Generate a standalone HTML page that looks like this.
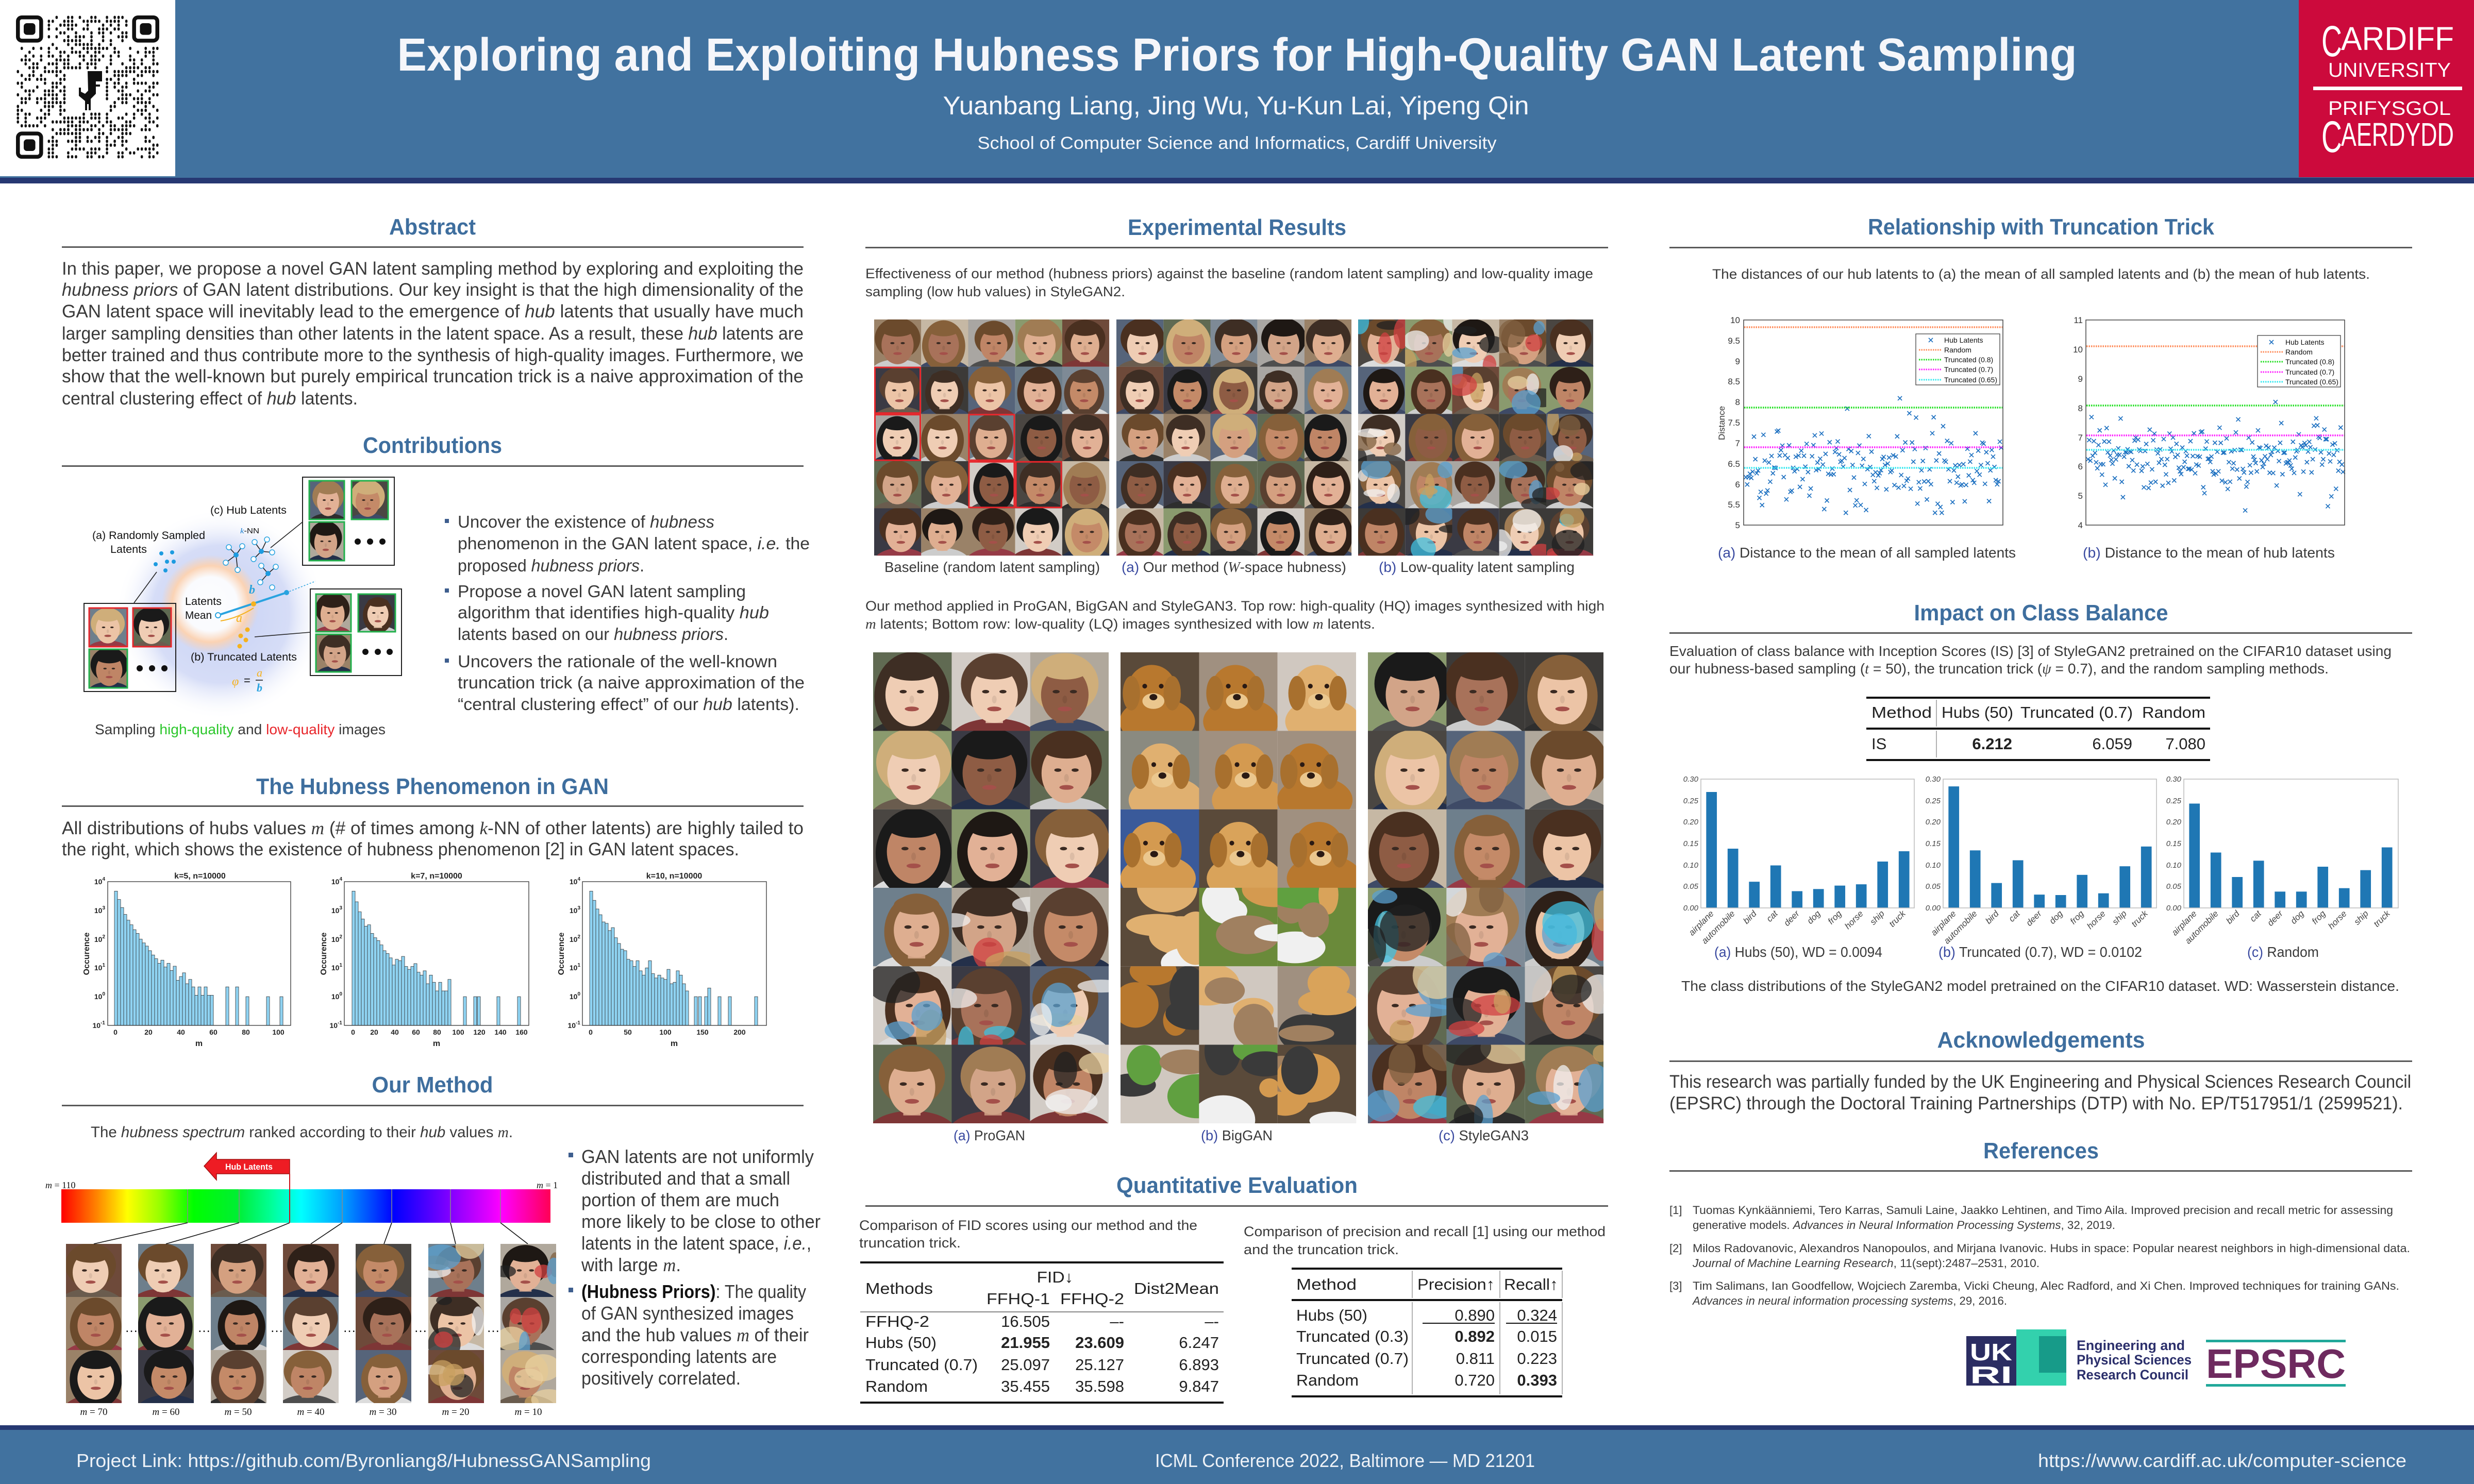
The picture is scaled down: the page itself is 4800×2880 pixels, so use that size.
<!DOCTYPE html>
<html><head><meta charset="utf-8">
<style>
html,body{margin:0;padding:0;background:#fff;}
svg{display:block;}
.b{font-family:"Liberation Sans",sans-serif;font-size:35px;fill:#3a3a3a;}
.s{font-family:"Liberation Sans",sans-serif;font-size:27px;fill:#3a3a3a;}
.h{font-family:"Liberation Sans",sans-serif;font-size:44px;font-weight:bold;fill:#3e6e9e;text-anchor:middle;}
.i{font-style:italic;}
.m{font-family:"Liberation Serif",serif;font-style:italic;}
.t{font-family:"Liberation Sans",sans-serif;font-size:31px;fill:#222;}
.ax{font-family:"Liberation Sans",sans-serif;font-size:14px;font-weight:bold;fill:#222;}
.sc{font-family:"Liberation Sans",sans-serif;font-size:17px;fill:#333;}
.bc{font-family:"Liberation Sans",sans-serif;font-size:15px;font-style:italic;fill:#444;}
.lg{font-family:"Liberation Sans",sans-serif;font-size:14px;fill:#111;}
.dg{font-family:"Liberation Sans",sans-serif;font-size:21px;fill:#111;}
.f{font-family:"Liberation Sans",sans-serif;font-size:36px;fill:#eef2f7;}
.cap{fill:#3a4aa0;}
</style></head>
<body>
<svg id="root" xmlns="http://www.w3.org/2000/svg" width="4800" height="2880" viewBox="0 0 4800 2880">
<defs>
<linearGradient id="spec" x1="0" y1="0" x2="1" y2="0">
<stop offset="0" stop-color="#ff0000"/><stop offset="0.07" stop-color="#ff8000"/><stop offset="0.135" stop-color="#ffff00"/>
<stop offset="0.2" stop-color="#99ff00"/><stop offset="0.27" stop-color="#00ff00"/><stop offset="0.36" stop-color="#00ee33"/>
<stop offset="0.43" stop-color="#00ff99"/><stop offset="0.49" stop-color="#00ffff"/><stop offset="0.58" stop-color="#0099ff"/>
<stop offset="0.68" stop-color="#0000ff"/><stop offset="0.8" stop-color="#8800ff"/><stop offset="0.9" stop-color="#ff00ff"/>
<stop offset="1" stop-color="#ff0055"/></linearGradient>
<radialGradient id="blueGlow"><stop offset="0" stop-color="#c7d1f4"/><stop offset="0.65" stop-color="#d6ddf7"/><stop offset="1" stop-color="#ffffff" stop-opacity="0"/></radialGradient>
<radialGradient id="orRing"><stop offset="0" stop-color="#ffffff" stop-opacity="0.95"/><stop offset="0.55" stop-color="#ffffff" stop-opacity="0.9"/><stop offset="0.78" stop-color="#fbd3b4"/><stop offset="1" stop-color="#fbd3b4" stop-opacity="0"/></radialGradient>
</defs>

<!-- HEADER -->
<rect x="0" y="0" width="4800" height="346" fill="#41729f"/>
<rect x="0" y="345" width="4800" height="11" fill="#263872"/>
<rect x="0" y="0" width="340" height="342" fill="#ffffff"/>
<rect x="4460" y="0" width="340" height="344" fill="#cc0a3c"/>
<rect x="4488" y="168" width="289" height="7" fill="#ffffff"/>

<!-- FOOTER -->
<rect x="0" y="2766" width="4800" height="10" fill="#263872"/>
<rect x="0" y="2775" width="4800" height="105" fill="#41729f"/>

<!-- section rules -->
<g fill="#5a5a5a">
<rect x="120" y="478" width="1439" height="3"/>
<rect x="120" y="903" width="1439" height="3"/>
<rect x="120" y="1563" width="1439" height="3"/>
<rect x="120" y="2144" width="1439" height="3"/>
<rect x="1679" y="479" width="1441" height="3"/>
<rect x="1679" y="2339" width="1441" height="3"/>
<rect x="3239" y="479" width="1441" height="3"/>
<rect x="3239" y="1227" width="1441" height="3"/>
<rect x="3239" y="2058" width="1441" height="3"/>
<rect x="3239" y="2271" width="1441" height="3"/>
</g>

<!-- contributions diagram backgrounds -->
<circle cx="428" cy="1192" r="205" fill="url(#blueGlow)"/>
<circle cx="408" cy="1172" r="95" fill="url(#orRing)"/>

<!-- spectrum bar -->
<rect x="119" y="2308" width="949" height="65" fill="url(#spec)"/>

<!-- photo/graphics group (generated) -->
<g id="gfx"></g>

<!-- diagram boxes -->
<g fill="none" stroke="#222" stroke-width="2">
<rect x="587" y="926" width="178" height="171"/>
<rect x="602" y="1143" width="177" height="168"/>
<rect x="163" y="1171" width="178" height="171"/>
</g>
<g fill="none" stroke-width="3">
<rect x="600" y="933" width="68" height="75" stroke="#22b14c"/>
<rect x="682" y="933" width="71" height="75" stroke="#22b14c"/>
<rect x="600" y="1013" width="68" height="75" stroke="#22b14c"/>
<rect x="613" y="1153" width="68" height="73" stroke="#22b14c"/>
<rect x="695" y="1153" width="72" height="73" stroke="#22b14c"/>
<rect x="613" y="1231" width="68" height="73" stroke="#22b14c"/>
<rect x="173" y="1180" width="74" height="75" stroke="#e8262b"/>
<rect x="258" y="1180" width="74" height="75" stroke="#e8262b"/>
<rect x="173" y="1260" width="74" height="75" stroke="#22b14c"/>
</g>
<g fill="#111">
<circle cx="694" cy="1051" r="6"/><circle cx="718" cy="1051" r="6"/><circle cx="742" cy="1051" r="6"/>
<circle cx="709" cy="1265" r="6"/><circle cx="733" cy="1265" r="6"/><circle cx="756" cy="1265" r="6"/>
<circle cx="271" cy="1297" r="6"/><circle cx="295" cy="1297" r="6"/><circle cx="319" cy="1297" r="6"/>
</g>
<g stroke="#222" stroke-width="1.6">
<line x1="260" y1="1170" x2="304" y2="1110"/>
<line x1="525" y1="1063" x2="587" y2="1013"/>
<line x1="494" y1="1236" x2="602" y2="1227"/>
<line x1="444" y1="1062" x2="458" y2="1077"/><line x1="470" y1="1060" x2="458" y2="1077"/><line x1="438" y1="1092" x2="458" y2="1077"/><line x1="461" y1="1106" x2="458" y2="1077"/>
<line x1="494" y1="1052" x2="507" y2="1070"/><line x1="518" y1="1047" x2="507" y2="1070"/><line x1="528" y1="1072" x2="507" y2="1070"/><line x1="492" y1="1085" x2="507" y2="1070"/>
<line x1="507" y1="1098" x2="520" y2="1113"/><line x1="535" y1="1100" x2="520" y2="1113"/><line x1="505" y1="1130" x2="520" y2="1113"/>
</g>
<g fill="#fff" stroke="#29a3e0" stroke-width="1.5">
<circle cx="444" cy="1062" r="5"/><circle cx="470" cy="1060" r="5"/><circle cx="438" cy="1092" r="5"/><circle cx="461" cy="1106" r="5"/>
<circle cx="494" cy="1052" r="5"/><circle cx="518" cy="1047" r="5"/><circle cx="528" cy="1072" r="5"/><circle cx="492" cy="1085" r="5"/>
<circle cx="507" cy="1098" r="5"/><circle cx="535" cy="1100" r="5"/><circle cx="505" cy="1130" r="5"/><circle cx="528" cy="1140" r="5"/>
</g>
<g fill="#1d9be0">
<circle cx="458" cy="1077" r="5"/><circle cx="507" cy="1070" r="5"/><circle cx="520" cy="1113" r="5"/>
<circle cx="313" cy="1074" r="4"/><circle cx="334" cy="1072" r="4"/><circle cx="324" cy="1090" r="4"/><circle cx="337" cy="1090" r="4"/><circle cx="302" cy="1095" r="4"/><circle cx="321" cy="1107" r="4"/>
</g>
<line x1="423" y1="1194" x2="556" y2="1150" stroke="#29a3e0" stroke-width="4"/>
<line x1="556" y1="1150" x2="612" y2="1128" stroke="#29a3e0" stroke-width="1.5" stroke-dasharray="3 3"/>
<circle cx="423" cy="1194" r="5" fill="#fff" stroke="#29a3e0" stroke-width="2"/>
<circle cx="556" cy="1150" r="5" fill="#29a3e0"/>
<circle cx="492" cy="1172" r="5" fill="#f5b21f"/>
<path d="M428 1205 Q460 1200 492 1180" fill="none" stroke="#f5b21f" stroke-width="2"/>
<g fill="#f5b21f"><circle cx="480" cy="1222" r="4.5"/><circle cx="467" cy="1234" r="4.5"/><circle cx="477" cy="1242" r="4.5"/><circle cx="465" cy="1254" r="4.5"/></g>
<line x1="496" y1="1320" x2="510" y2="1320" stroke="#111" stroke-width="1.5"/>

<!-- spectrum separators, connectors, arrow -->
<g stroke="#8a8a8a" stroke-width="1.5">
<line x1="364" y1="2308" x2="364" y2="2373"/><line x1="464" y1="2308" x2="464" y2="2373"/><line x1="562" y1="2308" x2="562" y2="2373"/>
<line x1="664" y1="2308" x2="664" y2="2373"/><line x1="760" y1="2308" x2="760" y2="2373"/><line x1="874" y1="2308" x2="874" y2="2373"/><line x1="971" y1="2308" x2="971" y2="2373"/>
</g>
<g stroke="#111" stroke-width="1.6">
<line x1="364" y1="2373" x2="182" y2="2414"/><line x1="464" y1="2373" x2="322" y2="2414"/><line x1="562" y1="2373" x2="462" y2="2414"/>
<line x1="664" y1="2373" x2="603" y2="2414"/><line x1="760" y1="2373" x2="745" y2="2414"/><line x1="874" y1="2373" x2="884" y2="2414"/><line x1="971" y1="2373" x2="1024" y2="2414"/>
</g>
<polygon points="396,2263 420,2237 420,2250 562,2250 562,2278 420,2278 420,2290" fill="#ee1c24" stroke="#a01010" stroke-width="1.5"/>
<line x1="562" y1="2278" x2="562" y2="2373" stroke="#cc1018" stroke-width="2"/>

<!-- hist axes boxes -->
<g fill="none" stroke="#333" stroke-width="1.3">
<rect x="209" y="1711" width="355" height="279"/>
<rect x="668" y="1711" width="358" height="279"/>
<rect x="1130" y="1711" width="357" height="279"/>
</g>

<!-- scatter plot boxes and ref lines -->
<g fill="none" stroke="#444" stroke-width="1.5">
<rect x="3383" y="621" width="503" height="398"/>
<rect x="4047" y="621" width="502" height="398"/>
</g>
<g stroke-width="3.5" stroke-dasharray="2.5 2">
<line x1="3384" y1="635" x2="3885" y2="635" stroke="#ff8c5a"/>
<line x1="3384" y1="791" x2="3885" y2="791" stroke="#22e022"/>
<line x1="3384" y1="868" x2="3885" y2="868" stroke="#ff22ff"/>
<line x1="3384" y1="908" x2="3885" y2="908" stroke="#33e8f0"/>
<line x1="4048" y1="672" x2="4548" y2="672" stroke="#ff8c5a"/>
<line x1="4048" y1="787" x2="4548" y2="787" stroke="#22e022"/>
<line x1="4048" y1="845" x2="4548" y2="845" stroke="#ff22ff"/>
<line x1="4048" y1="873" x2="4548" y2="873" stroke="#33e8f0"/>
</g>

<!-- bar chart boxes -->
<g fill="none" stroke="#bbbbbb" stroke-width="1.5">
<rect x="3300" y="1512" width="414" height="250"/>
<rect x="3770" y="1512" width="414" height="250"/>
<rect x="4237" y="1512" width="416" height="250"/>
</g>

<!-- tables -->
<g fill="#111">
<rect x="1669" y="2448" width="705" height="4"/><rect x="1669" y="2720" width="705" height="4"/>
<rect x="2506" y="2460" width="525" height="4"/><rect x="2506" y="2521" width="525" height="4"/><rect x="2506" y="2708" width="525" height="4"/>
<rect x="3621" y="1352" width="667" height="4"/><rect x="3621" y="1412" width="667" height="4"/><rect x="3621" y="1473" width="667" height="4"/>
<rect x="2760" y="2567" width="140" height="2"/><rect x="2922" y="2567" width="99" height="2"/>
</g>
<rect x="1669" y="2545" width="705" height="2" fill="#888"/>
<g stroke="#999" stroke-width="1.5">
<line x1="2740" y1="2466" x2="2740" y2="2519"/><line x1="2910" y1="2466" x2="2910" y2="2519"/><line x1="3031" y1="2466" x2="3031" y2="2519"/>
<line x1="2740" y1="2527" x2="2740" y2="2706"/><line x1="2910" y1="2527" x2="2910" y2="2706"/><line x1="3031" y1="2527" x2="3031" y2="2706"/>
<line x1="3757" y1="1358" x2="3757" y2="1410"/><line x1="3757" y1="1418" x2="3757" y2="1470"/>
</g>

<!-- bullets -->
<g fill="#3e5e8e">
<rect x="863" y="1007" width="8" height="8"/><rect x="863" y="1142" width="8" height="8"/><rect x="863" y="1278" width="8" height="8"/>
<rect x="1103" y="2237" width="9" height="9"/><rect x="1103" y="2499" width="9" height="9"/>
</g>

<!-- logos -->
<rect x="3815" y="2593" width="97" height="96" fill="#2b2d62"/>
<rect x="3912" y="2580" width="97" height="109" fill="#33d1ad"/>
<rect x="3956" y="2593" width="53" height="71" fill="#179b89"/>
<rect x="4280" y="2600" width="271" height="5" fill="#21a89a"/>
<rect x="4280" y="2686" width="271" height="5" fill="#21a89a"/>

<!-- ============ TEXT ============ -->
<text x="2400" y="137" text-anchor="middle" font-family="Liberation Sans, sans-serif" font-size="90" font-weight="bold" fill="#f5f6fa" textLength="3259" lengthAdjust="spacingAndGlyphs">Exploring and Exploiting Hubness Priors for High-Quality GAN Latent Sampling</text>
<text x="2398" y="222" text-anchor="middle" font-family="Liberation Sans, sans-serif" font-size="50" fill="#f5f6fa" textLength="1137" lengthAdjust="spacingAndGlyphs">Yuanbang Liang, Jing Wu, Yu-Kun Lai, Yipeng Qin</text>
<text x="2400" y="289" text-anchor="middle" font-family="Liberation Sans, sans-serif" font-size="34" fill="#f5f6fa" textLength="1007" lengthAdjust="spacingAndGlyphs">School of Computer Science and Informatics, Cardiff University</text>

<g font-family="Liberation Sans Narrow, Liberation Sans, sans-serif" fill="#ffffff">
<text x="4504" y="109" font-size="84" textLength="40" lengthAdjust="spacingAndGlyphs">C</text>
<text x="4542" y="97" font-size="64" textLength="219" lengthAdjust="spacingAndGlyphs">ARDIFF</text>
<text x="4517" y="149" font-size="39" textLength="238" lengthAdjust="spacingAndGlyphs">UNIVERSITY</text>
<text x="4517" y="223" font-size="38" textLength="238" lengthAdjust="spacingAndGlyphs">PRIFYSGOL</text>
<text x="4504" y="295" font-size="86" textLength="40" lengthAdjust="spacingAndGlyphs">C</text>
<text x="4542" y="283" font-size="64" textLength="219" lengthAdjust="spacingAndGlyphs">AERDYDD</text>
</g>

<!-- headings -->
<text class="h" x="839" y="455" textLength="168" lengthAdjust="spacingAndGlyphs">Abstract</text>
<text class="h" x="839" y="879" textLength="270" lengthAdjust="spacingAndGlyphs">Contributions</text>
<text class="h" x="839" y="1541" textLength="684" lengthAdjust="spacingAndGlyphs">The Hubness Phenomenon in GAN</text>
<text class="h" x="839" y="2120" textLength="235" lengthAdjust="spacingAndGlyphs">Our Method</text>
<text class="h" x="2400" y="456" textLength="424" lengthAdjust="spacingAndGlyphs">Experimental Results</text>
<text class="h" x="2400" y="2315" textLength="468" lengthAdjust="spacingAndGlyphs">Quantitative Evaluation</text>
<text class="h" x="3960" y="455" textLength="672" lengthAdjust="spacingAndGlyphs">Relationship with Truncation Trick</text>
<text class="h" x="3960" y="1204" textLength="493" lengthAdjust="spacingAndGlyphs">Impact on Class Balance</text>
<text class="h" x="3960" y="2033" textLength="403" lengthAdjust="spacingAndGlyphs">Acknowledgements</text>
<text class="h" x="3960" y="2248" textLength="224" lengthAdjust="spacingAndGlyphs">References</text>

<!-- abstract -->
<g class="b">
<text x="120" y="533" textLength="1439" lengthAdjust="spacingAndGlyphs">In this paper, we propose a novel GAN latent sampling method by exploring and exploiting the</text>
<text x="120" y="574" textLength="1439" lengthAdjust="spacingAndGlyphs"><tspan class="i">hubness priors</tspan> of GAN latent distributions.  Our key insight is that the high dimensionality of the</text>
<text x="120" y="616" textLength="1439" lengthAdjust="spacingAndGlyphs">GAN latent space will inevitably lead to the emergence of <tspan class="i">hub</tspan> latents that usually have much</text>
<text x="120" y="659" textLength="1439" lengthAdjust="spacingAndGlyphs">larger sampling densities than other latents in the latent space. As a result, these <tspan class="i">hub</tspan> latents are</text>
<text x="120" y="701" textLength="1439" lengthAdjust="spacingAndGlyphs">better trained and thus contribute more to the synthesis of high-quality images. Furthermore, we</text>
<text x="120" y="742" textLength="1439" lengthAdjust="spacingAndGlyphs">show that the well-known but purely empirical truncation trick is a naive approximation of the</text>
<text x="120" y="785" textLength="574" lengthAdjust="spacingAndGlyphs">central clustering effect of <tspan class="i">hub</tspan> latents.</text>
</g>

<!-- contributions bullets -->
<g class="b" style="font-size:33px">
<text x="888" y="1024" textLength="498" lengthAdjust="spacingAndGlyphs">Uncover the existence of <tspan class="i">hubness</tspan></text>
<text x="888" y="1066" textLength="683" lengthAdjust="spacingAndGlyphs">phenomenon in the GAN latent space, <tspan class="i">i.e.</tspan> the</text>
<text x="888" y="1109" textLength="362" lengthAdjust="spacingAndGlyphs">proposed <tspan class="i">hubness priors</tspan>.</text>
<text x="888" y="1159" textLength="559" lengthAdjust="spacingAndGlyphs">Propose a novel GAN latent sampling</text>
<text x="888" y="1200" textLength="604" lengthAdjust="spacingAndGlyphs">algorithm that identifies high-quality <tspan class="i">hub</tspan></text>
<text x="888" y="1242" textLength="525" lengthAdjust="spacingAndGlyphs">latents based on our <tspan class="i">hubness priors</tspan>.</text>
<text x="888" y="1295" textLength="620" lengthAdjust="spacingAndGlyphs">Uncovers the rationale of the well-known</text>
<text x="888" y="1336" textLength="673" lengthAdjust="spacingAndGlyphs">truncation trick (a naive approximation of the</text>
<text x="888" y="1378" textLength="663" lengthAdjust="spacingAndGlyphs">“central clustering effect” of our <tspan class="i">hub</tspan> latents).</text>
</g>

<!-- diagram labels -->
<g class="dg">
<text x="408" y="997" textLength="148" lengthAdjust="spacingAndGlyphs">(c) Hub Latents</text>
<text x="179" y="1046" textLength="219" lengthAdjust="spacingAndGlyphs">(a)  Randomly Sampled</text>
<text x="214" y="1073" textLength="71" lengthAdjust="spacingAndGlyphs">Latents</text>
<text x="359" y="1174" textLength="71" lengthAdjust="spacingAndGlyphs">Latents</text>
<text x="359" y="1201" textLength="52" lengthAdjust="spacingAndGlyphs">Mean</text>
<text x="370" y="1282" textLength="206" lengthAdjust="spacingAndGlyphs">(b) Truncated Latents</text>
<text x="466" y="1035" style="font-size:15px" textLength="37" lengthAdjust="spacingAndGlyphs"><tspan class="m" fill="#1d7fd0">k</tspan>-NN</text>
<text x="483" y="1152" class="m" style="font-size:24px;font-weight:bold" fill="#29a3e0">b</text>
<text x="458" y="1207" class="m" style="font-size:24px" fill="#f5b21f">a</text>
<text x="450" y="1330" class="m" style="font-size:24px" fill="#f5b21f">φ</text>
<text x="473" y="1328" style="font-size:22px">=</text>
<text x="498" y="1313" class="m" style="font-size:22px" fill="#f5b21f">a</text>
<text x="498" y="1342" class="m" style="font-size:22px;font-weight:bold" fill="#29a3e0">b</text>
</g>
<text x="184" y="1425" class="b" style="font-size:28px" textLength="564" lengthAdjust="spacingAndGlyphs">Sampling <tspan fill="#2cc72c">high-quality</tspan> and <tspan fill="#e8262b">low-quality</tspan> images</text>

<!-- hubness text -->
<g class="b">
<text x="120" y="1619" textLength="1439" lengthAdjust="spacingAndGlyphs">All distributions of hubs values <tspan class="m">m</tspan> (# of times among <tspan class="m">k</tspan>-NN of other latents) are highly tailed to</text>
<text x="120" y="1660" textLength="1314" lengthAdjust="spacingAndGlyphs">the right, which shows the existence of hubness phenomenon [2] in GAN latent spaces.</text>
</g>

<!-- histogram labels -->
<g class="ax" style="font-size:16px" text-anchor="middle">
<text x="388" y="1705">k=5, n=10000</text>
<text x="847" y="1705">k=7, n=10000</text>
<text x="1308" y="1705">k=10, n=10000</text>
<text x="386" y="2030">m</text><text x="847" y="2030">m</text><text x="1308" y="2030">m</text>
<text transform="translate(173 1851) rotate(-90)">Occurence</text>
<text transform="translate(633 1851) rotate(-90)">Occurence</text>
<text transform="translate(1094 1851) rotate(-90)">Occurence</text>
</g>
<g class="ax" text-anchor="middle">
<text x="224" y="2008">0</text><text x="288" y="2008">20</text><text x="351" y="2008">40</text><text x="414" y="2008">60</text><text x="477" y="2008">80</text><text x="540" y="2008">100</text>
<text x="685" y="2008">0</text><text x="726" y="2008">20</text><text x="766" y="2008">40</text><text x="807" y="2008">60</text><text x="848" y="2008">80</text><text x="889" y="2008">100</text><text x="930" y="2008">120</text><text x="971" y="2008">140</text><text x="1012" y="2008">160</text>
<text x="1146" y="2008">0</text><text x="1218" y="2008">50</text><text x="1291" y="2008">100</text><text x="1363" y="2008">150</text><text x="1435" y="2008">200</text>
</g>
<g class="ax" text-anchor="end">
<text x="204" y="1716">10<tspan dy="-7" font-size="10">4</tspan></text>
<text x="204" y="1772">10<tspan dy="-7" font-size="10">3</tspan></text>
<text x="204" y="1828">10<tspan dy="-7" font-size="10">2</tspan></text>
<text x="204" y="1883">10<tspan dy="-7" font-size="10">1</tspan></text>
<text x="204" y="1939">10<tspan dy="-7" font-size="10">0</tspan></text>
<text x="204" y="1995">10<tspan dy="-7" font-size="10">-1</tspan></text>
<text x="664" y="1716">10<tspan dy="-7" font-size="10">4</tspan></text>
<text x="664" y="1772">10<tspan dy="-7" font-size="10">3</tspan></text>
<text x="664" y="1828">10<tspan dy="-7" font-size="10">2</tspan></text>
<text x="664" y="1883">10<tspan dy="-7" font-size="10">1</tspan></text>
<text x="664" y="1939">10<tspan dy="-7" font-size="10">0</tspan></text>
<text x="664" y="1995">10<tspan dy="-7" font-size="10">-1</tspan></text>
<text x="1126" y="1716">10<tspan dy="-7" font-size="10">4</tspan></text>
<text x="1126" y="1772">10<tspan dy="-7" font-size="10">3</tspan></text>
<text x="1126" y="1828">10<tspan dy="-7" font-size="10">2</tspan></text>
<text x="1126" y="1883">10<tspan dy="-7" font-size="10">1</tspan></text>
<text x="1126" y="1939">10<tspan dy="-7" font-size="10">0</tspan></text>
<text x="1126" y="1995">10<tspan dy="-7" font-size="10">-1</tspan></text>
</g>

<!-- method -->
<text x="176" y="2207" class="b" style="font-size:30px" textLength="819" lengthAdjust="spacingAndGlyphs">The <tspan class="i">hubness spectrum</tspan> ranked according to their <tspan class="i">hub</tspan> values <tspan class="m">m</tspan>.</text>
<text x="437" y="2270" font-family="Liberation Sans, sans-serif" font-size="17" font-weight="bold" fill="#fff" textLength="92" lengthAdjust="spacingAndGlyphs">Hub Latents</text>
<g font-family="Liberation Serif, serif" font-size="18" fill="#111">
<text x="88" y="2306"><tspan font-style="italic">m</tspan> = 110</text>
<text x="1041" y="2306"><tspan font-style="italic">m</tspan> = 1</text>
</g>
<g font-family="Liberation Serif, serif" font-size="19" fill="#111" text-anchor="middle">
<text x="182" y="2746"><tspan font-style="italic">m</tspan> = 70</text>
<text x="322" y="2746"><tspan font-style="italic">m</tspan> = 60</text>
<text x="462" y="2746"><tspan font-style="italic">m</tspan> = 50</text>
<text x="603" y="2746"><tspan font-style="italic">m</tspan> = 40</text>
<text x="743" y="2746"><tspan font-style="italic">m</tspan> = 30</text>
<text x="884" y="2746"><tspan font-style="italic">m</tspan> = 20</text>
<text x="1025" y="2746"><tspan font-style="italic">m</tspan> = 10</text>
</g>
<g font-family="Liberation Sans, sans-serif" font-size="26" fill="#111" text-anchor="middle">
<text x="255" y="2585">…</text><text x="396" y="2585">…</text><text x="537" y="2585">…</text>
<text x="678" y="2585">…</text><text x="816" y="2585">…</text><text x="957" y="2585">…</text>
</g>
<g class="b" style="font-size:36px">
<text x="1128" y="2257" textLength="451" lengthAdjust="spacingAndGlyphs">GAN latents are not uniformly</text>
<text x="1128" y="2299" textLength="405" lengthAdjust="spacingAndGlyphs">distributed and that a small</text>
<text x="1128" y="2341" textLength="384" lengthAdjust="spacingAndGlyphs">portion of them are much</text>
<text x="1128" y="2383" textLength="464" lengthAdjust="spacingAndGlyphs">more likely to be close to other</text>
<text x="1128" y="2425" textLength="446" lengthAdjust="spacingAndGlyphs">latents in the latent space, <tspan class="i">i.e.</tspan>,</text>
<text x="1128" y="2467" textLength="193" lengthAdjust="spacingAndGlyphs">with large <tspan class="m">m</tspan>.</text>
<text x="1128" y="2519" textLength="436" lengthAdjust="spacingAndGlyphs"><tspan fill="#111" font-weight="bold" style="font-weight:600">(Hubness Priors)</tspan>: The quality</text>
<text x="1128" y="2561" textLength="412" lengthAdjust="spacingAndGlyphs">of GAN synthesized images</text>
<text x="1128" y="2603" textLength="441" lengthAdjust="spacingAndGlyphs">and the hub values <tspan class="m">m</tspan> of their</text>
<text x="1128" y="2645" textLength="379" lengthAdjust="spacingAndGlyphs">corresponding latents are</text>
<text x="1128" y="2687" textLength="309" lengthAdjust="spacingAndGlyphs">positively correlated.</text>
</g>

<!-- middle column text -->
<g class="s">
<text x="1679" y="540" textLength="1412" lengthAdjust="spacingAndGlyphs">Effectiveness of our method (hubness priors) against the baseline (random latent sampling) and low-quality image</text>
<text x="1679" y="575" textLength="504" lengthAdjust="spacingAndGlyphs">sampling (low hub values) in StyleGAN2.</text>
<text x="1716" y="1110" style="font-size:28px" textLength="418" lengthAdjust="spacingAndGlyphs">Baseline (random latent sampling)</text>
<text x="2176" y="1110" style="font-size:28px" textLength="436" lengthAdjust="spacingAndGlyphs"><tspan class="cap">(a)</tspan> Our method (<tspan class="m">W</tspan>-space hubness)</text>
<text x="2675" y="1110" style="font-size:28px" textLength="380" lengthAdjust="spacingAndGlyphs"><tspan class="cap">(b)</tspan> Low-quality latent sampling</text>
<text x="1679" y="1185" textLength="1434" lengthAdjust="spacingAndGlyphs">Our method applied in ProGAN, BigGAN and StyleGAN3. Top row: high-quality (HQ) images synthesized with high</text>
<text x="1679" y="1220" textLength="989" lengthAdjust="spacingAndGlyphs"><tspan class="m">m</tspan> latents; Bottom row: low-quality (LQ) images synthesized with low <tspan class="m">m</tspan> latents.</text>
<text x="1850" y="2213" style="font-size:28px" textLength="139" lengthAdjust="spacingAndGlyphs"><tspan class="cap">(a)</tspan> ProGAN</text>
<text x="2330" y="2213" style="font-size:28px" textLength="139" lengthAdjust="spacingAndGlyphs"><tspan class="cap">(b)</tspan> BigGAN</text>
<text x="2791" y="2213" style="font-size:28px" textLength="175" lengthAdjust="spacingAndGlyphs"><tspan class="cap">(c)</tspan> StyleGAN3</text>
<text x="1667" y="2387" textLength="656" lengthAdjust="spacingAndGlyphs">Comparison of FID scores using our method and the</text>
<text x="1667" y="2421" textLength="197" lengthAdjust="spacingAndGlyphs">truncation trick.</text>
<text x="2413" y="2399" textLength="702" lengthAdjust="spacingAndGlyphs">Comparison of precision and recall [1] using our method</text>
<text x="2413" y="2434" textLength="301" lengthAdjust="spacingAndGlyphs">and the truncation trick.</text>
</g>

<!-- table 1 -->
<g class="t">
<text x="2047" y="2489" text-anchor="middle" textLength="71" lengthAdjust="spacingAndGlyphs">FID↓</text>
<text x="1679" y="2511" textLength="131" lengthAdjust="spacingAndGlyphs">Methods</text>
<text x="2200" y="2511" textLength="165" lengthAdjust="spacingAndGlyphs">Dist2Mean</text>
<text x="1914" y="2531" textLength="123" lengthAdjust="spacingAndGlyphs">FFHQ-1</text>
<text x="2057" y="2531" textLength="124" lengthAdjust="spacingAndGlyphs">FFHQ-2</text>
<text x="1679" y="2575" textLength="124" lengthAdjust="spacingAndGlyphs">FFHQ-2</text>
<text x="1679" y="2616" textLength="138" lengthAdjust="spacingAndGlyphs">Hubs (50)</text>
<text x="1679" y="2659" textLength="218" lengthAdjust="spacingAndGlyphs">Truncated (0.7)</text>
<text x="1679" y="2701" textLength="121" lengthAdjust="spacingAndGlyphs">Random</text>
</g>
<g class="t" text-anchor="end">
<text x="2037" y="2575">16.505</text><text x="2181" y="2575">–-</text><text x="2365" y="2575">–-</text>
<text x="2037" y="2616" font-weight="bold">21.955</text><text x="2181" y="2616" font-weight="bold">23.609</text><text x="2365" y="2616">6.247</text>
<text x="2037" y="2659">25.097</text><text x="2181" y="2659">25.127</text><text x="2365" y="2659">6.893</text>
<text x="2037" y="2701">35.455</text><text x="2181" y="2701">35.598</text><text x="2365" y="2701">9.847</text>
</g>

<!-- table 2 -->
<g class="t">
<text x="2515" y="2503" textLength="117" lengthAdjust="spacingAndGlyphs">Method</text>
<text x="2750" y="2503" textLength="150" lengthAdjust="spacingAndGlyphs">Precision↑</text>
<text x="2918" y="2503" textLength="105" lengthAdjust="spacingAndGlyphs">Recall↑</text>
<text x="2515" y="2563" textLength="138" lengthAdjust="spacingAndGlyphs">Hubs (50)</text>
<text x="2515" y="2604" textLength="218" lengthAdjust="spacingAndGlyphs">Truncated (0.3)</text>
<text x="2515" y="2647" textLength="218" lengthAdjust="spacingAndGlyphs">Truncated (0.7)</text>
<text x="2515" y="2689" textLength="121" lengthAdjust="spacingAndGlyphs">Random</text>
</g>
<g class="t" text-anchor="end">
<text x="2900" y="2563">0.890</text><text x="3021" y="2563">0.324</text>
<text x="2900" y="2604" font-weight="bold">0.892</text><text x="3021" y="2604">0.015</text>
<text x="2900" y="2647">0.811</text><text x="3021" y="2647">0.223</text>
<text x="2900" y="2689">0.720</text><text x="3021" y="2689" font-weight="bold">0.393</text>
</g>

<!-- right column text -->
<g class="s">
<text x="3322" y="541" textLength="1276" lengthAdjust="spacingAndGlyphs">The distances of our hub latents to (a) the mean of all sampled latents and (b) the mean of hub latents.</text>
<text x="3333" y="1082" style="font-size:28px" textLength="578" lengthAdjust="spacingAndGlyphs"><tspan class="cap">(a)</tspan> Distance to the mean of all sampled latents</text>
<text x="4041" y="1082" style="font-size:28px" textLength="489" lengthAdjust="spacingAndGlyphs"><tspan class="cap">(b)</tspan> Distance to the mean of hub latents</text>
<text x="3239" y="1273" style="font-size:28px" textLength="1401" lengthAdjust="spacingAndGlyphs">Evaluation of class balance with Inception Scores (IS) [3] of StyleGAN2 pretrained on the CIFAR10 dataset using</text>
<text x="3239" y="1307" style="font-size:28px" textLength="1279" lengthAdjust="spacingAndGlyphs">our hubness-based sampling (<tspan class="m">t</tspan> = 50), the truncation trick (<tspan class="m">ψ</tspan> = 0.7), and the random sampling methods.</text>
<text x="3326" y="1857" style="font-size:28px" textLength="326" lengthAdjust="spacingAndGlyphs"><tspan class="cap">(a)</tspan> Hubs (50), WD = 0.0094</text>
<text x="3761" y="1857" style="font-size:28px" textLength="395" lengthAdjust="spacingAndGlyphs"><tspan class="cap">(b)</tspan> Truncated (0.7), WD = 0.0102</text>
<text x="4360" y="1857" style="font-size:28px" textLength="139" lengthAdjust="spacingAndGlyphs"><tspan class="cap">(c)</tspan> Random</text>
<text x="3262" y="1923" style="font-size:28px" textLength="1393" lengthAdjust="spacingAndGlyphs">The class distributions of the StyleGAN2 model pretrained on the CIFAR10 dataset. WD: Wasserstein distance.</text>
</g>

<!-- table 3 -->
<g class="t">
<text x="3631" y="1393" textLength="117" lengthAdjust="spacingAndGlyphs">Method</text>
<text x="3767" y="1393" textLength="139" lengthAdjust="spacingAndGlyphs">Hubs (50)</text>
<text x="3920" y="1393" textLength="218" lengthAdjust="spacingAndGlyphs">Truncated (0.7)</text>
<text x="4156" y="1393" textLength="123" lengthAdjust="spacingAndGlyphs">Random</text>
<text x="3631" y="1454">IS</text>
<text x="3904" y="1454" text-anchor="end" font-weight="bold">6.212</text>
<text x="4137" y="1454" text-anchor="end">6.059</text>
<text x="4279" y="1454" text-anchor="end">7.080</text>
</g>

<!-- scatter axes labels -->
<g class="sc" text-anchor="end">
<text x="3376" y="627">10</text><text x="3376" y="667">9.5</text><text x="3376" y="707">9</text><text x="3376" y="746">8.5</text>
<text x="3376" y="786">8</text><text x="3376" y="826">7.5</text><text x="3376" y="866">7</text><text x="3376" y="906">6.5</text>
<text x="3376" y="946">6</text><text x="3376" y="985">5.5</text><text x="3376" y="1025">5</text>
<text x="4041" y="627">11</text><text x="4041" y="684">10</text><text x="4041" y="741">9</text><text x="4041" y="798">8</text>
<text x="4041" y="855">7</text><text x="4041" y="911">6</text><text x="4041" y="968">5</text><text x="4041" y="1025">4</text>
</g>
<text class="sc" transform="translate(3346 821) rotate(-90)" text-anchor="middle">Distance</text>

<!-- bar chart labels -->
<g class="bc" text-anchor="end">
<text x="3295" y="1517">0.30</text><text x="3295" y="1559">0.25</text><text x="3295" y="1600">0.20</text><text x="3295" y="1642">0.15</text><text x="3295" y="1684">0.10</text><text x="3295" y="1725">0.05</text><text x="3295" y="1767">0.00</text>
<text x="3765" y="1517">0.30</text><text x="3765" y="1559">0.25</text><text x="3765" y="1600">0.20</text><text x="3765" y="1642">0.15</text><text x="3765" y="1684">0.10</text><text x="3765" y="1725">0.05</text><text x="3765" y="1767">0.00</text>
<text x="4232" y="1517">0.30</text><text x="4232" y="1559">0.25</text><text x="4232" y="1600">0.20</text><text x="4232" y="1642">0.15</text><text x="4232" y="1684">0.10</text><text x="4232" y="1725">0.05</text><text x="4232" y="1767">0.00</text>
</g>
<g class="bc" style="font-size:17px" text-anchor="end">
<text transform="translate(3326 1774) rotate(-45)">airplane</text><text transform="translate(3367 1774) rotate(-45)">automobile</text><text transform="translate(3409 1774) rotate(-45)">bird</text><text transform="translate(3450 1774) rotate(-45)">cat</text><text transform="translate(3492 1774) rotate(-45)">deer</text><text transform="translate(3533 1774) rotate(-45)">dog</text><text transform="translate(3574 1774) rotate(-45)">frog</text><text transform="translate(3616 1774) rotate(-45)">horse</text><text transform="translate(3657 1774) rotate(-45)">ship</text><text transform="translate(3698 1774) rotate(-45)">truck</text>
<text transform="translate(3796 1774) rotate(-45)">airplane</text><text transform="translate(3837 1774) rotate(-45)">automobile</text><text transform="translate(3879 1774) rotate(-45)">bird</text><text transform="translate(3920 1774) rotate(-45)">cat</text><text transform="translate(3962 1774) rotate(-45)">deer</text><text transform="translate(4003 1774) rotate(-45)">dog</text><text transform="translate(4044 1774) rotate(-45)">frog</text><text transform="translate(4086 1774) rotate(-45)">horse</text><text transform="translate(4127 1774) rotate(-45)">ship</text><text transform="translate(4168 1774) rotate(-45)">truck</text>
<text transform="translate(4263 1774) rotate(-45)">airplane</text><text transform="translate(4305 1774) rotate(-45)">automobile</text><text transform="translate(4346 1774) rotate(-45)">bird</text><text transform="translate(4388 1774) rotate(-45)">cat</text><text transform="translate(4430 1774) rotate(-45)">deer</text><text transform="translate(4471 1774) rotate(-45)">dog</text><text transform="translate(4513 1774) rotate(-45)">frog</text><text transform="translate(4554 1774) rotate(-45)">horse</text><text transform="translate(4596 1774) rotate(-45)">ship</text><text transform="translate(4638 1774) rotate(-45)">truck</text>
</g>

<!-- ack + refs -->
<g class="b">
<text x="3239" y="2111" textLength="1439" lengthAdjust="spacingAndGlyphs">This research was partially funded by the UK Engineering and Physical Sciences Research Council</text>
<text x="3239" y="2153" textLength="1423" lengthAdjust="spacingAndGlyphs">(EPSRC) through the Doctoral Training Partnerships (DTP) with No.  EP/T517951/1 (2599521).</text>
</g>
<g class="b" style="font-size:22px">
<text x="3239" y="2356">[1]</text>
<text x="3284" y="2356" textLength="1359" lengthAdjust="spacingAndGlyphs">Tuomas Kynkäänniemi, Tero Karras, Samuli Laine, Jaakko Lehtinen, and Timo Aila. Improved precision and recall metric for assessing</text>
<text x="3284" y="2385" textLength="820" lengthAdjust="spacingAndGlyphs">generative models. <tspan class="i">Advances in Neural Information Processing Systems</tspan>, 32, 2019.</text>
<text x="3239" y="2430">[2]</text>
<text x="3284" y="2430" textLength="1392" lengthAdjust="spacingAndGlyphs">Milos Radovanovic, Alexandros Nanopoulos, and Mirjana Ivanovic. Hubs in space:  Popular nearest neighbors in high-dimensional data.</text>
<text x="3284" y="2459" textLength="673" lengthAdjust="spacingAndGlyphs"><tspan class="i">Journal of Machine Learning Research</tspan>, 11(sept):2487–2531, 2010.</text>
<text x="3239" y="2503">[3]</text>
<text x="3284" y="2503" textLength="1371" lengthAdjust="spacingAndGlyphs">Tim Salimans, Ian Goodfellow, Wojciech Zaremba, Vicki Cheung, Alec Radford, and Xi Chen. Improved techniques for training GANs.</text>
<text x="3284" y="2532" textLength="610" lengthAdjust="spacingAndGlyphs"><tspan class="i">Advances in neural information processing systems</tspan>, 29, 2016.</text>
</g>

<!-- logos text -->
<g font-family="Liberation Sans, sans-serif" font-weight="bold" fill="#ffffff">
<text x="3822" y="2640" font-size="46" textLength="82" lengthAdjust="spacingAndGlyphs">UK</text>
<text x="3822" y="2684" font-size="46" textLength="82" lengthAdjust="spacingAndGlyphs">RI</text>
</g>
<g font-family="Liberation Sans Narrow, Liberation Sans, sans-serif" font-weight="bold" fill="#2b2f6b" font-size="27">
<text x="4029" y="2620" textLength="210" lengthAdjust="spacingAndGlyphs">Engineering and</text>
<text x="4029" y="2648" textLength="223" lengthAdjust="spacingAndGlyphs">Physical Sciences</text>
<text x="4029" y="2677" textLength="217" lengthAdjust="spacingAndGlyphs">Research Council</text>
</g>
<text x="4280" y="2674" font-family="Liberation Sans, sans-serif" font-weight="bold" font-size="80" fill="#6e2a5f" textLength="271" lengthAdjust="spacingAndGlyphs">EPSRC</text>

<!-- legends -->
<rect x="3717" y="648" width="163" height="99" fill="#fff" stroke="#333" stroke-width="1.2"/>
<rect x="4380" y="651" width="161" height="100" fill="#fff" stroke="#333" stroke-width="1.2"/>
<g stroke-width="3" stroke-dasharray="2.5 2">
<line x1="3723" y1="679" x2="3768" y2="679" stroke="#ff8c5a"/><line x1="3723" y1="698" x2="3768" y2="698" stroke="#22e022"/>
<line x1="3723" y1="717" x2="3768" y2="717" stroke="#ff22ff"/><line x1="3723" y1="737" x2="3768" y2="737" stroke="#33e8f0"/>
<line x1="4386" y1="683" x2="4431" y2="683" stroke="#ff8c5a"/><line x1="4386" y1="702" x2="4431" y2="702" stroke="#22e022"/>
<line x1="4386" y1="722" x2="4431" y2="722" stroke="#ff22ff"/><line x1="4386" y1="741" x2="4431" y2="741" stroke="#33e8f0"/>
</g>
<g stroke="#1b6fc0" stroke-width="1.6">
<line x1="3742" y1="656" x2="3750" y2="664"/><line x1="3750" y1="656" x2="3742" y2="664"/>
<line x1="4403" y1="660" x2="4411" y2="668"/><line x1="4411" y1="660" x2="4403" y2="668"/>
</g>
<g class="lg">
<text x="3772" y="665">Hub Latents</text><text x="3772" y="684">Random</text><text x="3772" y="703">Truncated (0.8)</text><text x="3772" y="722">Truncated (0.7)</text><text x="3772" y="742">Truncated (0.65)</text>
<text x="4434" y="669">Hub Latents</text><text x="4434" y="688">Random</text><text x="4434" y="707">Truncated (0.8)</text><text x="4434" y="727">Truncated (0.7)</text><text x="4434" y="746">Truncated (0.65)</text>
</g>

<!-- footer text -->
<text class="f" x="148" y="2847" textLength="1115" lengthAdjust="spacingAndGlyphs">Project Link: https://github.com/Byronliang8/HubnessGANSampling</text>
<text class="f" x="2241" y="2847" textLength="737" lengthAdjust="spacingAndGlyphs">ICML Conference 2022, Baltimore — MD 21201</text>
<text class="f" x="3954" y="2847" textLength="715" lengthAdjust="spacingAndGlyphs">https://www.cardiff.ac.uk/computer-science</text>
</svg>

<script>
(function(){
var NS='http://www.w3.org/2000/svg';
var G=document.getElementById('gfx');
function el(p,t,a){var e=document.createElementNS(NS,t);for(var k in a)e.setAttribute(k,a[k]);p.appendChild(e);return e;}
function RNG(s){return function(){s|=0;s=s+0x6D2B79F5|0;var t=Math.imul(s^s>>>15,1|s);t=t+Math.imul(t^t>>>7,61|t)^t;return((t^t>>>14)>>>0)/4294967296;};}
function pick(a,r){return a[Math.floor(r()*a.length)];}
var SK=['#e2b196','#d4a080','#c48a68','#ecc4a6','#a8725a','#deae90','#8e5c44','#efcdb4','#d2a488','#bf8566'];
var HR=['#2e2018','#4a3020','#6b4a2c','#1e1814','#a07c54','#cfae7a','#3e2e24','#86603a','#1a1a1a','#5a4030'];
var BG=['#6e7f8c','#a9a6a2','#4a4642','#8a9a6e','#c6b8a4','#3a3a44','#9a8268','#606a52','#d2ccc6','#6e4a3a','#56647a','#b0a89c','#3c3a38','#7e8a96'];
var CL=['#2e2e2e','#3e4a66','#7e3636','#cccccc','#4e4e4e','#6a5c4e','#24304a','#963a46','#dcdcdc'];
function face(x,y,w,h,r,lq){
 var s=el(G,'svg',{x:x,y:y,width:w,height:h,viewBox:'0 0 100 100',preserveAspectRatio:'none'});
 var bg=pick(BG,r),sk=pick(SK,r),hr=pick(HR,r),cl=pick(CL,r);
 el(s,'rect',{width:100,height:100,fill:bg});
 var dx=(r()-0.5)*14,sc=0.92+r()*0.2,long=r()<0.45;
 el(s,'ellipse',{cx:50+dx,cy:114,rx:58,ry:30,fill:cl});
 el(s,'ellipse',{cx:50+dx,cy:long?56:40,rx:44*sc,ry:(long?52:40)*sc,fill:hr});
 el(s,'rect',{x:39+dx,y:66,width:22,height:24,fill:sk,opacity:0.85});
 el(s,'ellipse',{cx:50+dx,cy:54,rx:31*sc,ry:37*sc,fill:sk});
 el(s,'ellipse',{cx:50+dx,cy:22,rx:31*sc,ry:13*sc,fill:hr});
 el(s,'ellipse',{cx:39+dx,cy:50,rx:4.5,ry:2.2,fill:'#3a2a22'});
 el(s,'ellipse',{cx:61+dx,cy:50,rx:4.5,ry:2.2,fill:'#3a2a22'});
 el(s,'ellipse',{cx:50+dx,cy:60,rx:3,ry:5,fill:'#000',opacity:0.08});
 el(s,'ellipse',{cx:50+dx,cy:72,rx:9,ry:3,fill:'#a4504a'});
 if(lq){for(var i=0;i<4;i++)el(s,'ellipse',{cx:r()*100,cy:r()*100,rx:10+r()*25,ry:8+r()*25,fill:pick(['#e8d0a0','#202020','#c8a060','#5aa0d0','#f0f0f0','#806040','#d04040','#40c0e0'],r),opacity:0.75});}
}
function dog(x,y,w,h,r,lq){
 var s=el(G,'svg',{x:x,y:y,width:w,height:h,viewBox:'0 0 100 100',preserveAspectRatio:'none'});
 el(s,'rect',{width:100,height:100,fill:pick(['#3a5a9a','#8a8a80','#6a8a3a','#c8c0b0','#5a4a3a','#a09080','#7a9a4a','#d0c8c0'],r)});
 var c=pick(['#d9a35a','#c88a40','#e0b070','#b8782e','#d49a50'],r);
 if(lq){
  for(var i=0;i<5;i++)el(s,'ellipse',{cx:r()*100,cy:r()*100,rx:12+r()*30,ry:10+r()*25,fill:pick([c,'#f0f0f0','#3a3a3a','#60a040','#a08060',c],r)});
  return;}
 var dx=(r()-0.5)*20;
 el(s,'ellipse',{cx:55+dx,cy:88,rx:48,ry:30,fill:c});
 el(s,'ellipse',{cx:48+dx,cy:45,rx:30,ry:29,fill:c});
 el(s,'ellipse',{cx:22+dx,cy:52,rx:11,ry:22,fill:'#a8702e'});
 el(s,'ellipse',{cx:74+dx,cy:52,rx:11,ry:22,fill:'#a8702e'});
 el(s,'ellipse',{cx:50+dx,cy:62,rx:14,ry:10,fill:'#ebc78e'});
 el(s,'ellipse',{cx:50+dx,cy:57,rx:5,ry:4,fill:'#2a1a14'});
 el(s,'circle',{cx:39+dx,cy:43,r:3,fill:'#2a1a14'});
 el(s,'circle',{cx:60+dx,cy:43,r:3,fill:'#2a1a14'});
}
// QR
(function(){var r=RNG(11),N=37,x0=31,y0=30,m=278/37;
 for(var i=0;i<N;i++)for(var j=0;j<N;j++){
  if((i<8&&j<8)||(i>N-9&&j<8)||(i<8&&j>N-9))continue;
  if(i>=13&&i<=22&&j>=14&&j<=24)continue;
  if(r()<0.48)el(G,'rect',{x:x0+i*m+1.5,y:y0+j*m+0.6,width:m-3,height:m-1.2,rx:2.2,fill:'#111'});}
 [[0,0],[N-7,0],[0,N-7]].forEach(function(p){
  el(G,'rect',{x:x0+p[0]*m+m/2,y:y0+p[1]*m+m/2,width:6*m,height:6*m,rx:m,fill:'none',stroke:'#111','stroke-width':m});
  el(G,'rect',{x:x0+(p[0]+2)*m,y:y0+(p[1]+2)*m,width:3*m,height:3*m,rx:m*0.8,fill:'#111'});});
 el(G,'path',{d:'M170 138 h28 v20 h-12 v6 h8 v4 h-8 v14 l-10 10 v22 h-4 v-12 h-3 v12 h-4 v-18 l-12 -10 v-16 h4 v8 l8 4 l6 -6 z',fill:'#111'});
})();
// contributions faces
(function(){var r=RNG(3);
 [[600,933,68,75],[682,933,71,75],[600,1013,68,75],[613,1153,68,73],[695,1153,72,73],[613,1231,68,73],[173,1180,74,75],[258,1180,74,75],[173,1260,74,75]].forEach(function(b){face(b[0],b[1],b[2],b[3],r,false);});
})();
// spectrum faces
(function(){var r=RNG(5);var xs=[128,268,409,549,690,831,971],ys=[2414,2517,2620];
 for(var c=0;c<7;c++)for(var k=0;k<3;k++)face(xs[c],ys[k],108,103,r,c>=5&&r()<0.5);
})();
// experimental grids 5x5
(function(){var r=RNG(21);var gx=[1696,2166,2635];
 for(var g=0;g<3;g++)for(var i=0;i<5;i++)for(var j=0;j<5;j++)face(gx[g]+j*91.2,620+i*91.6,91.4,91.8,r,g==2&&r()<0.6);
 [[1,0],[2,0],[2,2],[3,2],[3,3]].forEach(function(p){el(G,'rect',{x:1696+p[1]*91.2+1.5,y:620+p[0]*91.6+1.5,width:88,height:88.5,fill:'none',stroke:'#e8262b','stroke-width':3});});
})();
// model grids 3x6
(function(){var r=RNG(33);var gx=[1694,2174,2654];
 for(var g=0;g<3;g++)for(var i=0;i<6;i++)for(var j=0;j<3;j++){
  var x=gx[g]+j*152.3,y=1266+i*152.3,lq=i>=3;
  if(g==1)dog(x,y,152.5,152.5,r,lq);else face(x,y,152.5,152.5,r,lq&&(g==2||r()<0.5));}
})();
// histograms
(function(){
 function hist(x0,arr,sp){var bw=6;
  arr.forEach(function(v,i){var h=(v+1)*55.8;el(G,'rect',{x:x0+i*bw,y:1990-h,width:bw,height:h,fill:'#8fd3f2',stroke:'#333','stroke-width':0.8});});
  sp.forEach(function(p){var h=(p[1]+1)*55.8;el(G,'rect',{x:p[0]-3,y:1990-h,width:bw,height:h,fill:'#8fd3f2',stroke:'#333','stroke-width':0.8});});}
 hist(222,[3.67,3.38,3.1,2.86,2.66,2.5,2.33,2.2,2.0,1.87,1.76,1.6,1.45,1.32,1.16,1.27,1.03,1.16,0.91,1.06,0.57,0.7,0.83,0.45,0.6,0.34,0.05,0.34,0.05,0.34,0.05,0.05],[[441,0.34],[460,0.34],[480,0],[520,0],[546,0]]);
 hist(683,[3.67,3.3,2.95,2.7,2.45,2.5,2.2,2.05,1.95,1.8,1.6,1.5,1.35,1.1,1.3,1.25,1.4,1.05,0.95,1.05,1.15,0.85,0.75,0.9,0.45,0.75,0.5,0.2,0.5,0.2,0.2,0.6],[[902,0],[922,0],[929,0],[967,0],[1007,0]]);
 hist(1144,[3.67,3.35,3.05,2.85,2.6,2.55,2.3,2.4,2.05,1.85,1.65,1.6,1.3,1.25,1.05,1.25,0.9,0.75,1.0,1.25,0.8,0.65,0.75,0.65,0.6,0.95,0.45,0.5,0.9,0.75,0.45,0.2],[[1350,0],[1358,0],[1370,0],[1376,0.3],[1396,0],[1416,0],[1467,0]]);
})();
// scatter
(function(){
 function nrm(r){var u=r()||1e-6,v=r();return Math.sqrt(-2*Math.log(u))*Math.cos(2*Math.PI*v);}
 function sc(x0,x1,n,mu,sd,yf,lo,hi,seed){var r=RNG(seed);
  for(var i=0;i<n;i++){var x=x0+(i+0.5)*(x1-x0)/n;var v=mu+sd*nrm(r);v=Math.max(lo,Math.min(hi,v));var y=yf(v);
   el(G,'path',{d:'M'+(x-4)+' '+(y-4)+'l8 8M'+(x+4)+' '+(y-4)+'l-8 8',stroke:'#1b6fc0','stroke-width':1.7,fill:'none'});}}
 sc(3386,3884,190,6.45,0.5,function(v){return 1019-(v-5)*79.6;},5.3,8.1,41);
 sc(4050,4547,220,6.25,0.62,function(v){return 1019-(v-4)*56.86;},4.5,8.2,43);
})();
// bar charts
(function(){
 var D=[[3300,[0.270,0.138,0.061,0.099,0.039,0.044,0.052,0.055,0.108,0.132]],
        [3770,[0.283,0.134,0.058,0.111,0.031,0.030,0.077,0.034,0.097,0.143]],
        [4237,[0.243,0.129,0.072,0.110,0.038,0.038,0.096,0.046,0.088,0.141]]];
 D.forEach(function(d){d[1].forEach(function(v,i){var h=v/0.3*250;el(G,'rect',{x:d[0]+10.35+i*41.5,y:1762-h,width:20.7,height:h,fill:'#1f77b4'});});});
})();
})();
</script>
</body></html>
